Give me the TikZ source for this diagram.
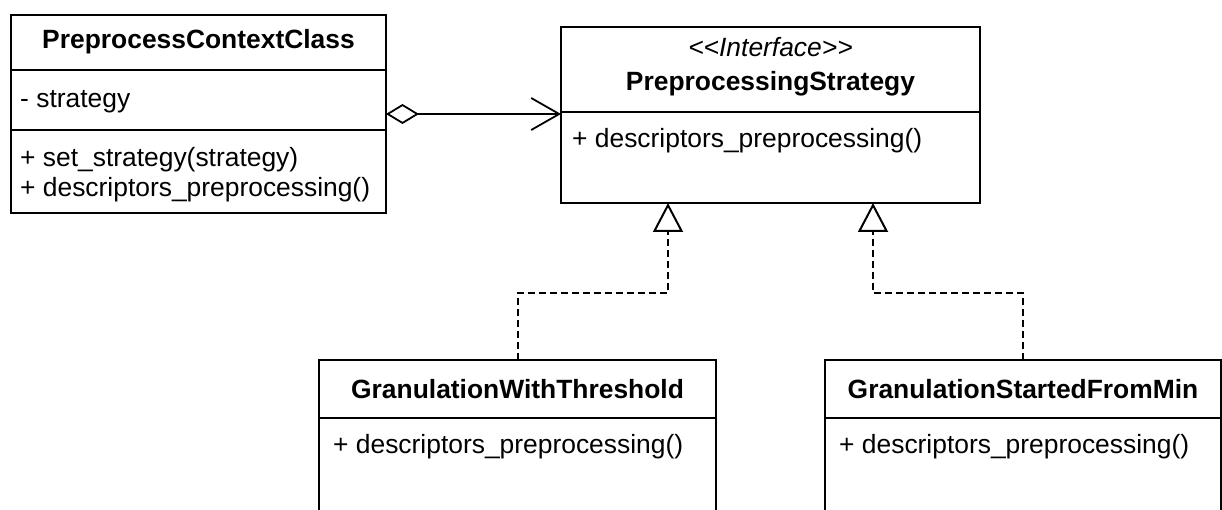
\documentclass[tikz,border=0pt]{standalone}
\usepackage{fontspec}
\setmainfont{Liberation Sans}
\newfontfamily\umlsans{Liberation Sans}
\usetikzlibrary{arrows.meta,positioning,calc}
\newcommand{\umlfont}{\umlsans\fontsize{26.4}{30}\selectfont}

\begin{document}
\begin{tikzpicture}[x=1pt,y=-1pt,
    classbox/.style={draw, line width=1.8pt, inner sep=0pt, outer sep=0pt, anchor=north west},
    divider/.style={line width=1.6pt},
    classname/.style={anchor=base, inner sep=0pt, font=\umlfont\bfseries},
    member/.style={anchor=base west, inner sep=0pt, font=\umlfont},
    aggregation/.style={line width=1.8pt,
      {Diamond[open,length=33pt,width=20pt]}-{Straight Barb[length=28pt,width=32pt]}},
    realize/.style={line width=2pt, dash pattern=on 7pt off 4pt,
      -{Triangle[open,length=29pt,width=30pt]}}]
    \useasboundingbox (0,0) rectangle (1222,510);
    \clip (0,0) rectangle (1222,510);
    % class boxes (the two lower ones run off the bottom edge)
    \node[classbox, minimum width=375pt, minimum height=198pt] (ctx) at (11,15) {};
    \node[classbox, minimum width=419pt, minimum height=176pt] (strat) at (561,27) {};
    \node[classbox, minimum width=397pt, minimum height=200pt] (gwt) at (319,360) {};
    \node[classbox, minimum width=396pt, minimum height=200pt] (gsm) at (825,360) {};
    % compartments
    \draw[divider] ($(ctx.north west)+(0,55)$) -- ($(ctx.north east)+(0,55)$);
    \draw[divider] ($(ctx.north west)+(0,115)$) -- ($(ctx.north east)+(0,115)$);
    \draw[divider] ($(strat.north west)+(0,85)$) -- ($(strat.north east)+(0,85)$);
    \draw[divider] ($(gwt.north west)+(0,58)$) -- ($(gwt.north east)+(0,58)$);
    \draw[divider] ($(gsm.north west)+(0,58)$) -- ($(gsm.north east)+(0,58)$);
    % context class
    \node[classname] (ctxname) at (198.5,49) {PreprocessContextClass};
    \node[member] (ctxattr) at (20,108) {- strategy};
    \node[member] (ctxset) at (20,167) {+ set\_strategy(strategy)};
    \node[member] (ctxdesc) at (20,197) {+ descriptors\_preprocessing()};
    % interface
    \node[anchor=base, inner sep=0pt, font=\umlfont\itshape] (stereo) at (770.5,57) {<<Interface>>};
    \node[classname] (stratname) at (770.5,90.5) {PreprocessingStrategy};
    \node[member] (stratdesc) at (572,148) {+ descriptors\_preprocessing()};
    % concrete strategies
    \node[classname] (gwtname) at (517.5,398) {GranulationWithThreshold};
    \node[member] (gwtdesc) at (333,453) {+ descriptors\_preprocessing()};
    \node[classname] (gsmname) at (1023,398) {GranulationStartedFromMin};
    \node[member] (gsmdesc) at (839,453) {+ descriptors\_preprocessing()};
    % aggregation
    \draw[aggregation] (ctx.east) -- (ctx.east -| strat.west);
    % realization
    \coordinate (hookA) at (668,203);
    \coordinate (hookB) at (873,203);
    \draw[realize] (gwt.north) -- ++(0,-67) -| (hookA);
    \draw[realize] (gsm.north) -- ++(0,-67) -| (hookB);
  \end{tikzpicture}
\end{document}
